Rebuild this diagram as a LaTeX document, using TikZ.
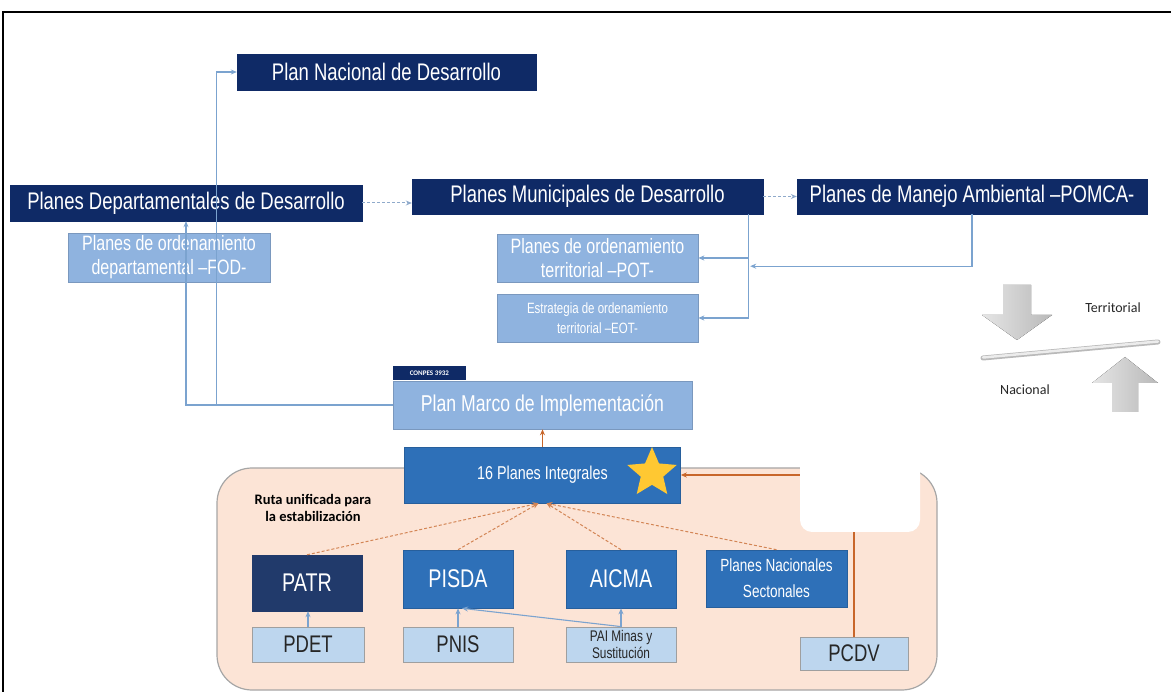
\documentclass[tikz,border=0pt]{standalone}
\usepackage{fontspec}
\setmainfont{Liberation Sans}[FakeStretch=0.77]
\newfontfamily\calibri{Carlito}
\usetikzlibrary{shapes.geometric,calc,arrows.meta}
\definecolor{navy}{HTML}{0F2A66}
\definecolor{slate}{HTML}{213A6B}
\definecolor{midb}{HTML}{2E70B8}
\definecolor{lightb}{HTML}{8FB3DF}
\definecolor{paleb}{HTML}{BDD6EE}
\definecolor{rutafill}{HTML}{FCE4D6}
\definecolor{orng}{HTML}{C8662A}
\definecolor{linkb}{HTML}{7BA3CF}
\definecolor{dashb}{HTML}{8FAACB}
\definecolor{staryel}{HTML}{FFC832}
\pgfdeclarelayer{background}
\pgfdeclarelayer{foreground}
\pgfsetlayers{background,main,foreground}

\begin{document}
\begin{tikzpicture}[>={Stealth[length=6pt,width=5pt]}, x=1pt, y=-1pt,
    navybox/.style={fill=navy, draw=navy, text=white, inner sep=0pt, font=\fontsize{24}{26}\selectfont},
    lightbox/.style={fill=lightb, draw=lightb!85!black, line width=0.6pt, text=white, inner sep=0pt, align=center},
    midbox/.style={fill=midb, draw=midb!85!black, line width=0.6pt, text=white, inner sep=0pt, align=center},
    palebox/.style={fill=paleb, draw=gray!75, line width=0.8pt, text=black!85, inner sep=0pt, align=center},
    link/.style={draw=linkb, line width=1.1pt, ->},
    dashlink/.style={draw=dashb, line width=1pt, dash pattern=on 3pt off 2pt, ->},
    orlink/.style={draw=orng, line width=1.1pt, ->},
    ordash/.style={draw=orng!80!white, line width=1pt, dash pattern=on 3pt off 2pt, ->}]
\useasboundingbox (0,0) rectangle (1171,692);
\draw[line width=2pt] (3,692) -- (3,12) -- (1171,12);

% Ruta unificada region
\begin{pgfonlayer}{background}
  \draw[fill=rutafill, draw=gray!70, line width=1.2pt, rounded corners=35pt] (217,468) rectangle (937,690);
\end{pgfonlayer}
\begin{pgfonlayer}{foreground}
  \fill[white, rounded corners=12pt] (800,440) rectangle (920,532);
\end{pgfonlayer}

% Nodes
\node[navybox, minimum width=299pt, minimum height=36pt] (PN) at (386.5,72) {Plan Nacional de Desarrollo};
\node[navybox, minimum width=352pt, minimum height=36pt] (Dept) at (186,203) {Planes Departamentales de Desarrollo};
\node[navybox, minimum width=351pt, minimum height=35pt] (Muni) at (587.5,196.5) {Planes Municipales de Desarrollo};
\node[navybox, minimum width=350pt, minimum height=35pt] (POMCA) at (972,196.5) {Planes de Manejo Ambiental --POMCA-};

\node[lightbox, minimum width=202pt, minimum height=49pt, font=\fontsize{20.8}{24}\selectfont] (FOD) at (169,257.5) {Planes de ordenamiento\\departamental --FOD-};
\node[lightbox, minimum width=201pt, minimum height=48pt, font=\fontsize{20.8}{24}\selectfont] (POT) at (597.5,258) {Planes de ordenamiento\\territorial --POT-};
\node[lightbox, minimum width=201pt, minimum height=48pt, font=\fontsize{14.9}{20}\selectfont] (EOT) at (597.5,318) {Estrategia de ordenamiento\\territorial --EOT-};

\node[lightbox, minimum width=299pt, minimum height=48pt, font=\fontsize{22.9}{25}\selectfont] (PMI) at (542.5,405) {Plan Marco de Implementación};
\node[fill=navy, text=white, inner sep=0pt, minimum width=73pt, minimum height=14pt, anchor=south west, font=\calibri\bfseries\fontsize{7}{8}\selectfont] (conpes) at (PMI.north west) {CONPES 3932};

\node[midbox, minimum width=276pt, minimum height=56pt, font=\fontsize{18.6}{20}\selectfont] (PI) at (542.5,475) {16 Planes Integrales};
\node[star, star points=5, star point ratio=2.2, minimum size=52pt, inner sep=0pt, fill=staryel] (star) at (652,473) {};

\node[align=center, font=\calibri\bfseries\fontsize{14.5}{17}\selectfont, text=black] (ruta) at (313,508) {Ruta unificada para\\la estabilización};

\node[fill=slate, draw=slate, text=white, inner sep=0pt, minimum width=110pt, minimum height=56pt, font=\fontsize{25.6}{27}\selectfont] (PATR) at (307,583) {PATR};
\node[midbox, minimum width=110pt, minimum height=58pt, font=\fontsize{25.6}{27}\selectfont] (PISDA) at (458,579) {PISDA};
\node[midbox, minimum width=110pt, minimum height=58pt, font=\fontsize{25.6}{27}\selectfont] (AICMA) at (621,579) {AICMA};
\node[midbox, minimum width=141pt, minimum height=57pt, font=\fontsize{17.6}{26}\selectfont] (PNS) at (776.5,578.5) {Planes Nacionales\\Sectonales};

\node[palebox, minimum width=112pt, minimum height=35pt, font=\fontsize{24}{26}\selectfont] (PDET) at (308,644.5) {PDET};
\node[palebox, minimum width=110pt, minimum height=35pt, font=\fontsize{24}{26}\selectfont] (PNIS) at (458,644.5) {PNIS};
\node[palebox, minimum width=110pt, minimum height=35pt, font=\fontsize{15.4}{17}\selectfont] (PAI) at (621,644.5) {PAI Minas y\\Sustitución};
\node[palebox, minimum width=108pt, minimum height=33pt, font=\fontsize{24}{26}\selectfont] (PCDV) at (854,653.5) {PCDV};

% Territorial / Nacional balance
\fill[left color=gray!20, right color=gray!55] (1003,285) -- (1031,285) -- (1031,315) -- (1052,315) -- (1017,340) -- (982,315) -- (1003,315) -- cycle;
\fill[left color=gray!20, right color=gray!55] (1112,412) -- (1138,412) -- (1138,383) -- (1158,383) -- (1125,357) -- (1092,383) -- (1112,383) -- cycle;
\draw[gray!55, line width=5pt, line cap=round] (983,358) -- (1158,342);
\draw[gray!15, line width=2.5pt, line cap=round] (983,357.5) -- (1158,341.5);
\node[font=\calibri\fontsize{14}{16}\selectfont, text=black!85] (terr) at (1113,308) {Territorial};
\node[font=\calibri\fontsize{14}{16}\selectfont, text=black!85] (nac) at (1025,390) {Nacional};

% Arrows connecting the nodes
\draw[dashlink] (Dept.east) -- (Dept.east -| Muni.west);
\draw[dashlink] (Muni.east) -- (POMCA.west);
\coordinate (mj) at ([xshift=-15pt]Muni.south east);
\draw[link] (mj) |- (POT.east);
\draw[link] (mj) |- (EOT.east);
\draw[link] (POMCA.south) |- ($(mj)+(2,52)$);
\draw[link] (PMI.west) -| (Dept.south);
\draw[link] (PMI.west) -| ([xshift=-20pt]PN.west) -- (PN.west);

\draw[orlink] (PI.north) -- (PMI.south);
\draw[orlink] (PCDV.north) |- (PI.east);
\draw[ordash] (PATR.north) -- ([xshift=-4pt]PI.south);
\draw[ordash] (PISDA.north) -- ([xshift=-4pt]PI.south);
\draw[ordash] (AICMA.north) -- ([xshift=4pt]PI.south);
\draw[ordash] (PNS.north) -- ([xshift=4pt]PI.south);

\draw[link] (PDET.north) -- (PDET.north |- PATR.south);
\draw[link] (PNIS.north) -- (PNIS.north |- PISDA.south);
\draw[link] (PAI.north) -- (PAI.north |- AICMA.south);
\draw[link] (PAI.north) -- ([xshift=4pt]PISDA.south);
\end{tikzpicture}
\end{document}
